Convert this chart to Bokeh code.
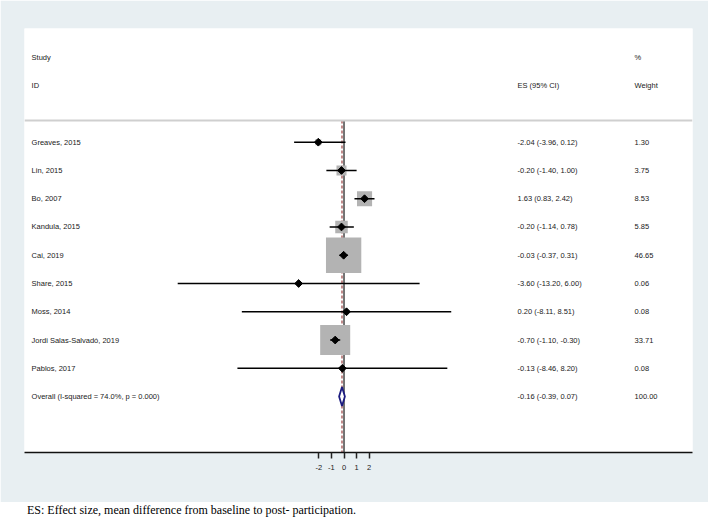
import math
from bokeh.plotting import figure
from bokeh.layouts import column
from bokeh.models import ColumnDataSource, Range1d, FixedTicker, Span, Div
from bokeh.core.properties import value
from bokeh.embed import file_html
from bokeh.resources import INLINE

# ---- data ----
studies = ["Greaves, 2015", "Lin, 2015", "Bo, 2007", "Kandula, 2015", "Cai, 2019",
           "Share, 2015", "Moss, 2014", "Jordi Salas-Salvadó, 2019", "Pablos, 2017"]
es = [-2.04, -0.20, 1.63, -0.20, -0.03, -3.60, 0.20, -0.70, -0.13]
ci_low = [-3.96, -1.40, 0.83, -1.14, -0.37, -13.20, -8.11, -1.10, -8.46]
ci_high = [0.12, 1.00, 2.42, 0.78, 0.31, 6.00, 8.51, -0.30, 8.20]
weights = [1.30, 3.75, 8.53, 5.85, 46.65, 0.06, 0.08, 33.71, 0.08]
overall_label = "Overall  (I-squared = 74.0%, p = 0.000)"
overall_es = -0.16
overall_low = -0.39
overall_high = 0.07
overall_weight = 100.00
x_ticks = [-2, -1, 0, 1, 2]
caption = "ES: Effect size, mean difference from baseline to post- participation."

# ---- layout constants ----
FONT = value("Liberation Sans")
FS = "7.5px"
TXT = "#1a1a1a"
BG = "#e8eff2"
X_STUDY, X_ES, X_W = -24.8, 13.77, 23.06
Y_SEP = -0.77
Y_TOP, Y_BOT = -4.023, 10.98
BOX_K = 5.17

n = len(studies)
rows = list(range(n))
ov_row = n

p = figure(width=708, height=502, output_backend="svg", toolbar_location=None,
           x_range=Range1d(-25.36, 27.66), y_range=Range1d(Y_BOT, Y_TOP),
           y_axis_location=None)
p.min_border = 0
p.min_border_left = 24
p.min_border_right = 16
p.min_border_top = 28
p.min_border_bottom = 50
p.border_fill_color = BG
p.background_fill_color = "white"
p.outline_line_color = None
p.grid.visible = False

# reference lines
p.segment(x0=[0], x1=[0], y0=[Y_SEP], y1=[Y_BOT], line_color="#3a3a3a", line_width=1.4)
p.segment(x0=[overall_es], x1=[overall_es], y0=[Y_SEP], y1=[Y_BOT],
          line_color="#a85a5a", line_width=1.4, line_dash="3 2")

src = ColumnDataSource(dict(
    y=rows, es=es, lo=ci_low, hi=ci_high,
    box=[BOX_K * math.sqrt(w) for w in weights],
    study=studies,
    est=[f"{e:.2f} ({l:.2f}, {h:.2f})" for e, l, h in zip(es, ci_low, ci_high)],
    wt=[f"{w:.2f}" for w in weights],
))

p.scatter(x="es", y="y", size="box", marker="square", source=src,
          fill_color="#b3b3b3", line_color=None)
p.segment(x0="lo", x1="hi", y0="y", y1="y", source=src, line_color="black", line_width=1.6)
p.scatter(x="es", y="y", size=5.5, marker="square", angle=math.pi / 4, source=src,
          fill_color="black", line_color="black")

# overall diamond
h = 0.336
p.patch(x=[overall_low, overall_es, overall_high, overall_es],
        y=[ov_row, ov_row - h, ov_row, ov_row + h],
        fill_color="white", line_color="#1c1c80", line_width=1.8)

# texts
p.text(x=X_STUDY, y="y", text="study", source=src, text_font=FONT, text_font_size=FS,
       text_color=TXT, text_baseline="middle")
p.text(x=X_ES, y="y", text="est", source=src, text_font=FONT, text_font_size=FS,
       text_color=TXT, text_baseline="middle")
p.text(x=X_W, y="y", text="wt", source=src, text_font=FONT, text_font_size=FS,
       text_color=TXT, text_baseline="middle")
p.text(x=[X_STUDY, X_ES, X_W], y=[ov_row] * 3,
       text=[overall_label, f"{overall_es:.2f} ({overall_low:.2f}, {overall_high:.2f})",
             f"{overall_weight:.2f}"],
       text_font=FONT, text_font_size=FS, text_color=TXT, text_baseline="middle")
p.text(x=[X_STUDY, X_STUDY, X_ES, X_W, X_W], y=[-3, -2, -2, -3, -2],
       text=["Study", "ID", "ES (95% CI)", "%", "Weight"],
       text_font=FONT, text_font_size=FS, text_color=TXT, text_baseline="middle")

p.add_layout(Span(location=Y_SEP, dimension="width", line_color="#cfcfcf", line_width=2))

# axis
ax = p.xaxis[0]
ax.ticker = FixedTicker(ticks=x_ticks)
ax.major_label_overrides = {t: str(t) for t in x_ticks}
ax.major_tick_out = 6
ax.major_tick_in = 0
ax.minor_tick_out = 0
ax.minor_tick_in = 0
ax.major_tick_line_width = 1.5
ax.major_tick_line_color = "#222222"
ax.axis_line_width = 1.5
ax.axis_line_color = "#111111"
ax.major_label_text_font = "Liberation Sans"
ax.major_label_text_font_size = FS
ax.major_label_text_color = TXT
ax.major_label_standoff = 6

cap_html = ('<div style="position:relative; top:0px; left:27px; margin:0; padding:0; '
            'font-family:\'Liberation Serif\', serif; font-size:12px; line-height:14px; '
            'color:black; white-space:nowrap;">' + caption + '</div>')
cap = Div(text=cap_html, width=708, height=15, margin=0,
          styles={"background-color": "white", "padding": "0", "margin": "0"})

layout = column(p, cap, spacing=0)
open("out.html", "w").write(file_html(layout, INLINE))
